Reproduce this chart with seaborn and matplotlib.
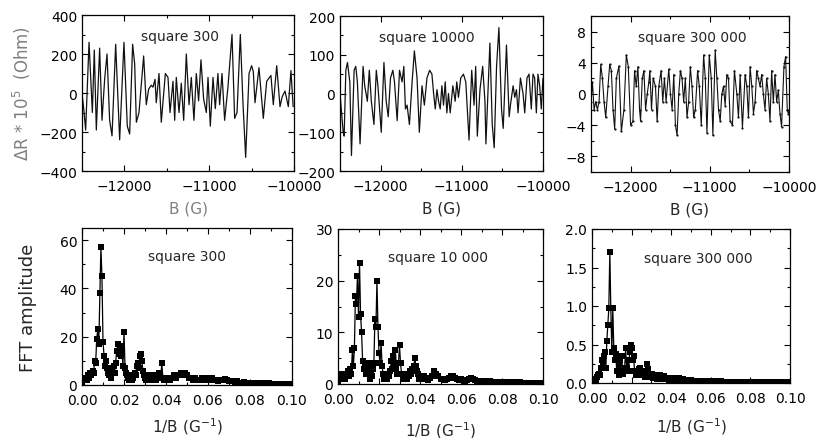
import numpy as np
import matplotlib
matplotlib.use("Agg")
import matplotlib.pyplot as plt
import seaborn as sns
from matplotlib.ticker import MultipleLocator, FormatStrFormatter

# ---- top row: magnetoresistance oscillations, B (G) vs dR*1e5 (Ohm) ----
b_300 = [-12500, -12480, -12457, -12417, -12378, -12355, -12331, -12292, -12264, -12233,
         -12205, -12174, -12146, -12103, -12056, -12005, -11966, -11938, -11903, -11879,
         -11859, -11828, -11773, -11742, -11714, -11683, -11663, -11639, -11624, -11592,
         -11565, -11517, -11486, -11462, -11427, -11407, -11388, -11356, -11329, -11301,
         -11270, -11238, -11211, -11180, -11152, -11125, -11097, -11066, -11034, -11014,
         -10987, -10955, -10928, -10897, -10877, -10849, -10818, -10779, -10731, -10700,
         -10672, -10633, -10602, -10570, -10530, -10500, -10480, -10460, -10413, -10362,
         -10322, -10272, -10244, -10204, -10165, -10140, -10106, -10067, -10036, -10010]
dr_300 = [0, -80, -190, 260, -100, 220, -190, 230, -140, 70,
          200, -140, -220, 250, -240, 260, -170, -210, 250, 150,
          -150, -100, 190, -60, 20, 40, 30, 70, -50, 100,
          -150, 100, 80, -100, 60, -140, 80, -100, 50, -140,
          200, -60, 80, -140, 100, -40, 170, -30, -100, 80,
          -170, 80, -80, 100, -60, 100, -140, 30, 300, -130,
          -100, 300, -50, -330, 100, 140, 110, -50, 130, -130,
          60, 90, -60, 140, -70, -20, 10, -70, 115, -70]

b_10k = [-12500, -12461, -12449, -12428, -12408, -12379, -12359, -12326, -12306, -12286,
         -12253, -12216, -12196, -12163, -12139, -12114, -12082, -12053, -12033, -11992,
         -11959, -11931, -11906, -11878, -11849, -11829, -11796, -11767, -11735, -11714,
         -11694, -11674, -11645, -11612, -11584, -11551, -11523, -11490, -11461, -11429,
         -11396, -11368, -11347, -11327, -11306, -11286, -11266, -11245, -11225, -11204,
         -11184, -11164, -11143, -11110, -11082, -11062, -11041, -11013, -10980, -10951,
         -10911, -10878, -10849, -10829, -10809, -10776, -10743, -10715, -10703, -10654,
         -10625, -10601, -10572, -10543, -10511, -10490, -10450, -10417, -10401, -10368,
         -10348, -10327, -10307, -10278, -10246, -10225, -10197, -10172, -10144, -10123,
         -10103, -10082, -10062, -10041, -10021, -10000]
dr_10k = [0, -100, -110, 60, 80, 30, -160, 60, 70, 30,
          -130, 70, 20, -20, 60, -20, -80, 60, 20, -100,
          80, -20, -60, 40, 60, 30, -70, 60, 30, 70,
          -40, -30, -80, 30, 110, 40, -100, 20, -30, 40,
          60, 50, 0, -40, 10, -20, -40, 20, -30, 30,
          -50, 0, -50, 20, -20, 30, -10, 40, 50, 30,
          -120, 60, -30, 70, -110, 10, 70, -20, -130, 130,
          -80, -140, 70, 170, -40, -90, 125, -60, -30, 20,
          -10, 10, -50, 40, 0, -50, 40, 50, -40, 50,
          40, -50, 50, 20, -40, 40]

b_300k = [-12500, -12482, -12461, -12440, -12419, -12398, -12377, -12356, -12335, -12314,
          -12285, -12264, -12243, -12222, -12201, -12180, -12147, -12117, -12084, -12054,
          -12029, -12000, -11971, -11950, -11929, -11908, -11887, -11874, -11853, -11832,
          -11811, -11790, -11770, -11757, -11736, -11715, -11686, -11665, -11644, -11615,
          -11594, -11573, -11552, -11518, -11497, -11476, -11455, -11434, -11413, -11392,
          -11371, -11351, -11330, -11309, -11288, -11267, -11246, -11225, -11204, -11183,
          -11154, -11133, -11108, -11078, -11057, -11036, -11007, -10982, -10961, -10932,
          -10911, -10890, -10869, -10848, -10827, -10806, -10785, -10764, -10743, -10714,
          -10689, -10659, -10638, -10617, -10588, -10554, -10533, -10512, -10491, -10470,
          -10449, -10428, -10408, -10387, -10366, -10345, -10324, -10303, -10282, -10261,
          -10240, -10219, -10198, -10177, -10156, -10135, -10114, -10094, -10064, -10043,
          -10022, -10010, -10000]
dr_300k = [-1, 1.5, -2, -1, -2, -1, 3.8, 2, -1, -3,
           1, 3.8, 3, -2, -4.5, 2, 3.6, -4.8, -2, 5,
           3.5, -4, -3.5, 3, 1, 3.5, -2, -3.5, 2, 3,
           -2, 0, 1.5, 3, -2, 2, 1, -3.5, 1, 3,
           -1, 2, -1, 3.2, 0, -2, 2.5, -4, -5.3, 0,
           3, 2, -1, 2, -3, -1, 3.5, 1, -3, -2,
           3, 1, -4, 5, 2, -5, 5, 2, -5.3, 5.6,
           2, -2, -3.5, 0, 1, -1.5, 2.5, 2, -3.5, -4,
           3, 0, -3, 2.5, -4.3, 2.5, 1, -3, 3.5, 1,
           -2.5, -1, 3, 2, 1, 2.5, 0, -2, 2, 0,
           -3.5, 3, -1, 2.5, -1, 0.5, -2.5, -4.2, 3.5, 4.8,
           -2, -2.5, -2]

# ---- bottom row: FFT amplitude vs 1/B ----
# frequency bins: 0.0005 steps up to 0.04, then 0.001 steps up to 0.1
inv_b = np.round(np.concatenate([np.arange(81) * 0.0005, 0.041 + np.arange(60) * 0.001]), 4)

fft_300 = [1, 2, 3, 2, 3, 2, 4, 3, 5, 4,
           6, 5, 10, 9, 19, 23, 17, 38, 57, 45,
           18, 12, 8, 10, 7, 5, 4, 6, 3, 7,
           8, 5, 9, 14, 17, 13, 16, 12, 14, 8,
           22, 7, 5, 4, 3, 2, 3, 4, 2, 3,
           5, 4, 8, 9, 7, 12, 13, 10, 6, 4,
           3, 2, 3, 2, 3, 4, 2, 3, 4, 3,
           2, 4, 3, 5, 4, 3, 9, 3, 2, 3,
           2,
           3, 2, 3, 4, 3, 4, 5, 4, 5, 4,
           3, 3, 2, 3, 2, 2, 3, 2, 2, 3,
           2, 3, 2, 2, 1.5, 2, 2, 2.5, 2, 1.5,
           1.5, 1.5, 1, 1.5, 1, 1, 1.2, 1, 1, 0.8,
           1, 0.8, 0.8, 1, 0.7, 0.8, 0.7, 0.6, 0.7, 0.6,
           0.6, 0.5, 0.6, 0.5, 0.5, 0.5, 0.4, 0.5, 0.4, 0.4]

fft_10k = [0.5, 1, 1.5, 1, 2, 1.5, 2, 1, 2, 1.5,
           2.5, 1.5, 3, 2, 6.5, 3.5, 7, 17, 15.5, 21,
           13, 23.5, 13.5, 10, 4.5, 3, 3.5, 2, 3, 4,
           2.5, 1, 2, 1.5, 3, 4, 12.5, 11, 20, 11,
           6, 4, 8, 3.5, 2, 1, 1.5, 2, 1, 2,
           1.5, 2.5, 4.5, 3, 5.5, 4, 6.5, 3, 2, 4,
           7.5, 4, 2, 1, 1.5, 1, 2, 1, 2, 1.5,
           2.5, 2, 3, 2.5, 3.5, 5, 3.5, 2.5, 2, 1,
           1.5,
           1, 1.5, 1, 0.8, 1.2, 1.5, 2.5, 2, 1.5, 1,
           1, 0.8, 1, 1.2, 1.5, 1.5, 1.2, 1, 0.8, 1,
           0.8, 0.6, 0.8, 1, 1.2, 1, 0.8, 0.6, 0.5, 0.6,
           0.5, 0.5, 0.4, 0.5, 0.4, 0.4, 0.4, 0.3, 0.4, 0.3,
           0.3, 0.3, 0.3, 0.3, 0.2, 0.3, 0.2, 0.2, 0.3, 0.2,
           0.2, 0.2, 0.2, 0.2, 0.2, 0.2, 0.2, 0.2, 0.2, 0.2]

fft_300k = [0.01, 0.02, 0.03, 0.05, 0.04, 0.08, 0.1, 0.12, 0.1, 0.2,
            0.3, 0.25, 0.35, 0.4, 0.2, 0.55, 0.75, 0.97, 1.7, 0.97,
            0.4, 0.97, 0.45, 0.3, 0.38, 0.15, 0.35, 0.1, 0.3, 0.15,
            0.35, 0.12, 0.15, 0.2, 0.45, 0.2, 0.3, 0.15, 0.4, 0.5,
            0.45, 0.3, 0.35, 0.15, 0.1, 0.15, 0.12, 0.18, 0.2, 0.1,
            0.15, 0.12, 0.1, 0.15, 0.08, 0.12, 0.25, 0.18, 0.12, 0.1,
            0.08, 0.12, 0.07, 0.1, 0.06, 0.09, 0.05, 0.08, 0.07, 0.1,
            0.06, 0.08, 0.05, 0.09, 0.06, 0.07, 0.05, 0.06, 0.04, 0.06,
            0.05,
            0.06, 0.04, 0.05, 0.06, 0.04, 0.05, 0.03, 0.04, 0.03, 0.04,
            0.03, 0.02, 0.03, 0.02, 0.02, 0.03, 0.02, 0.02, 0.01, 0.02,
            0.01, 0.02, 0.01, 0.01, 0.02, 0.01, 0.01, 0.01, 0.01, 0.01,
            0.01, 0.01, 0.01, 0.01, 0.01, 0.01, 0.01, 0.01, 0.01, 0.01,
            0.01, 0.01, 0.01, 0.01, 0.01, 0.01, 0.01, 0.01, 0.01, 0.01,
            0.01, 0.01, 0.01, 0.01, 0.01, 0.01, 0.01, 0.01, 0.01, 0.01]

sns.set_style("ticks")
plt.rcParams['font.family'] = ['DejaVu Sans']
plt.rcParams['mathtext.default'] = 'regular'

W, H = 816, 439
fig = plt.figure(figsize=(W / 100, H / 100), dpi=100)


def add_ax(left, top, right, bottom):
    # pixel box -> figure fraction
    return fig.add_axes([left / W, 1 - bottom / H, (right - left) / W, (bottom - top) / H])


def style(ax):
    ax.tick_params(which='both', direction='in', top=True, right=True,
                   labelsize=10, width=0.8, colors='black', pad=3.5)
    ax.tick_params(axis='x', which='both', pad=6)
    ax.tick_params(which='major', length=4)
    ax.tick_params(which='minor', length=2)
    for s in ax.spines.values():
        s.set_linewidth(0.9)
        s.set_color('black')


top_panels = [
    (b_300, dr_300, (82, 16, 294, 172), (-400, 400), 200, 100, "square 300", 0.46, 0.9),
    (b_10k, dr_10k, (340, 17, 543, 172), (-200, 200), 100, 50, "square 10000", 0.43, 0.9),
    (b_300k, dr_300k, (591, 17, 789, 173), (-10, 10), 4, 2, "square 300 000", 0.51, 0.8),
]

top_axes = []
for b, dr, box, ylim, maj, mnr, title, tx, lw in top_panels:
    ax = add_ax(*box)
    sns.lineplot(x=b, y=dr, ax=ax, color='#111111', linewidth=lw, sort=False,
                 marker='o' if lw < 0.9 else None, markersize=1.6, markeredgewidth=0)
    ax.set_xlim(-12500, -10000)
    ax.set_ylim(*ylim)
    ax.xaxis.set_major_locator(MultipleLocator(1000))
    ax.xaxis.set_minor_locator(MultipleLocator(500))
    ax.yaxis.set_major_locator(MultipleLocator(maj))
    ax.yaxis.set_minor_locator(MultipleLocator(mnr))
    ax.text(tx, 0.865, title, transform=ax.transAxes, ha='center', va='center', fontsize=10)
    ax.set_xlabel("B (G)", fontsize=11, labelpad=5)
    ax.set_ylabel("")
    style(ax)
    top_axes.append(ax)

top_axes[0].xaxis.label.set_color('#808080')

bottom_panels = [
    (fft_300, (82, 229, 292, 386), (0, 65), 20, 10, "square 300", 0.5, 0.82, 6),
    (fft_10k, (338, 230, 543, 385), (0, 30), 10, 5, "square 10 000", 0.49, 0.82, 9),
    (fft_300k, (592, 230, 790, 384), (0, 2), 0.5, 0.25, "square 300 000", 0.535, 0.81, 7),
]

for amp, box, ylim, maj, mnr, title, tx, ty, lp in bottom_panels:
    ax = add_ax(*box)
    sns.lineplot(x=inv_b, y=amp, ax=ax, color='black', linewidth=0.9, sort=False,
                 marker='s', markersize=3.8, markeredgewidth=0)
    ax.set_xlim(0, 0.1)
    ax.set_ylim(*ylim)
    ax.xaxis.set_major_locator(MultipleLocator(0.02))
    ax.xaxis.set_minor_locator(MultipleLocator(0.01))
    ax.xaxis.set_major_formatter(FormatStrFormatter('%.2f'))
    ax.yaxis.set_major_locator(MultipleLocator(maj))
    ax.yaxis.set_minor_locator(MultipleLocator(mnr))
    if maj < 1:
        ax.yaxis.set_major_formatter(FormatStrFormatter('%.1f'))
    ax.text(tx, ty, title, transform=ax.transAxes, ha='center', va='center', fontsize=10)
    ax.set_xlabel("1/B (G$^{-1}$)", fontsize=11, labelpad=lp)
    ax.set_ylabel("")
    style(ax)

fig.text(22 / W, 1 - 94 / H, r"$\Delta$R * 10$^5$  (Ohm)", rotation=90, ha='center', va='center',
         fontsize=12, color='#808080')
fig.text(28 / W, 1 - 308 / H, "FFT amplitude", rotation=90, ha='center', va='center',
         fontsize=13)

fig.savefig("out.png", dpi=100)
